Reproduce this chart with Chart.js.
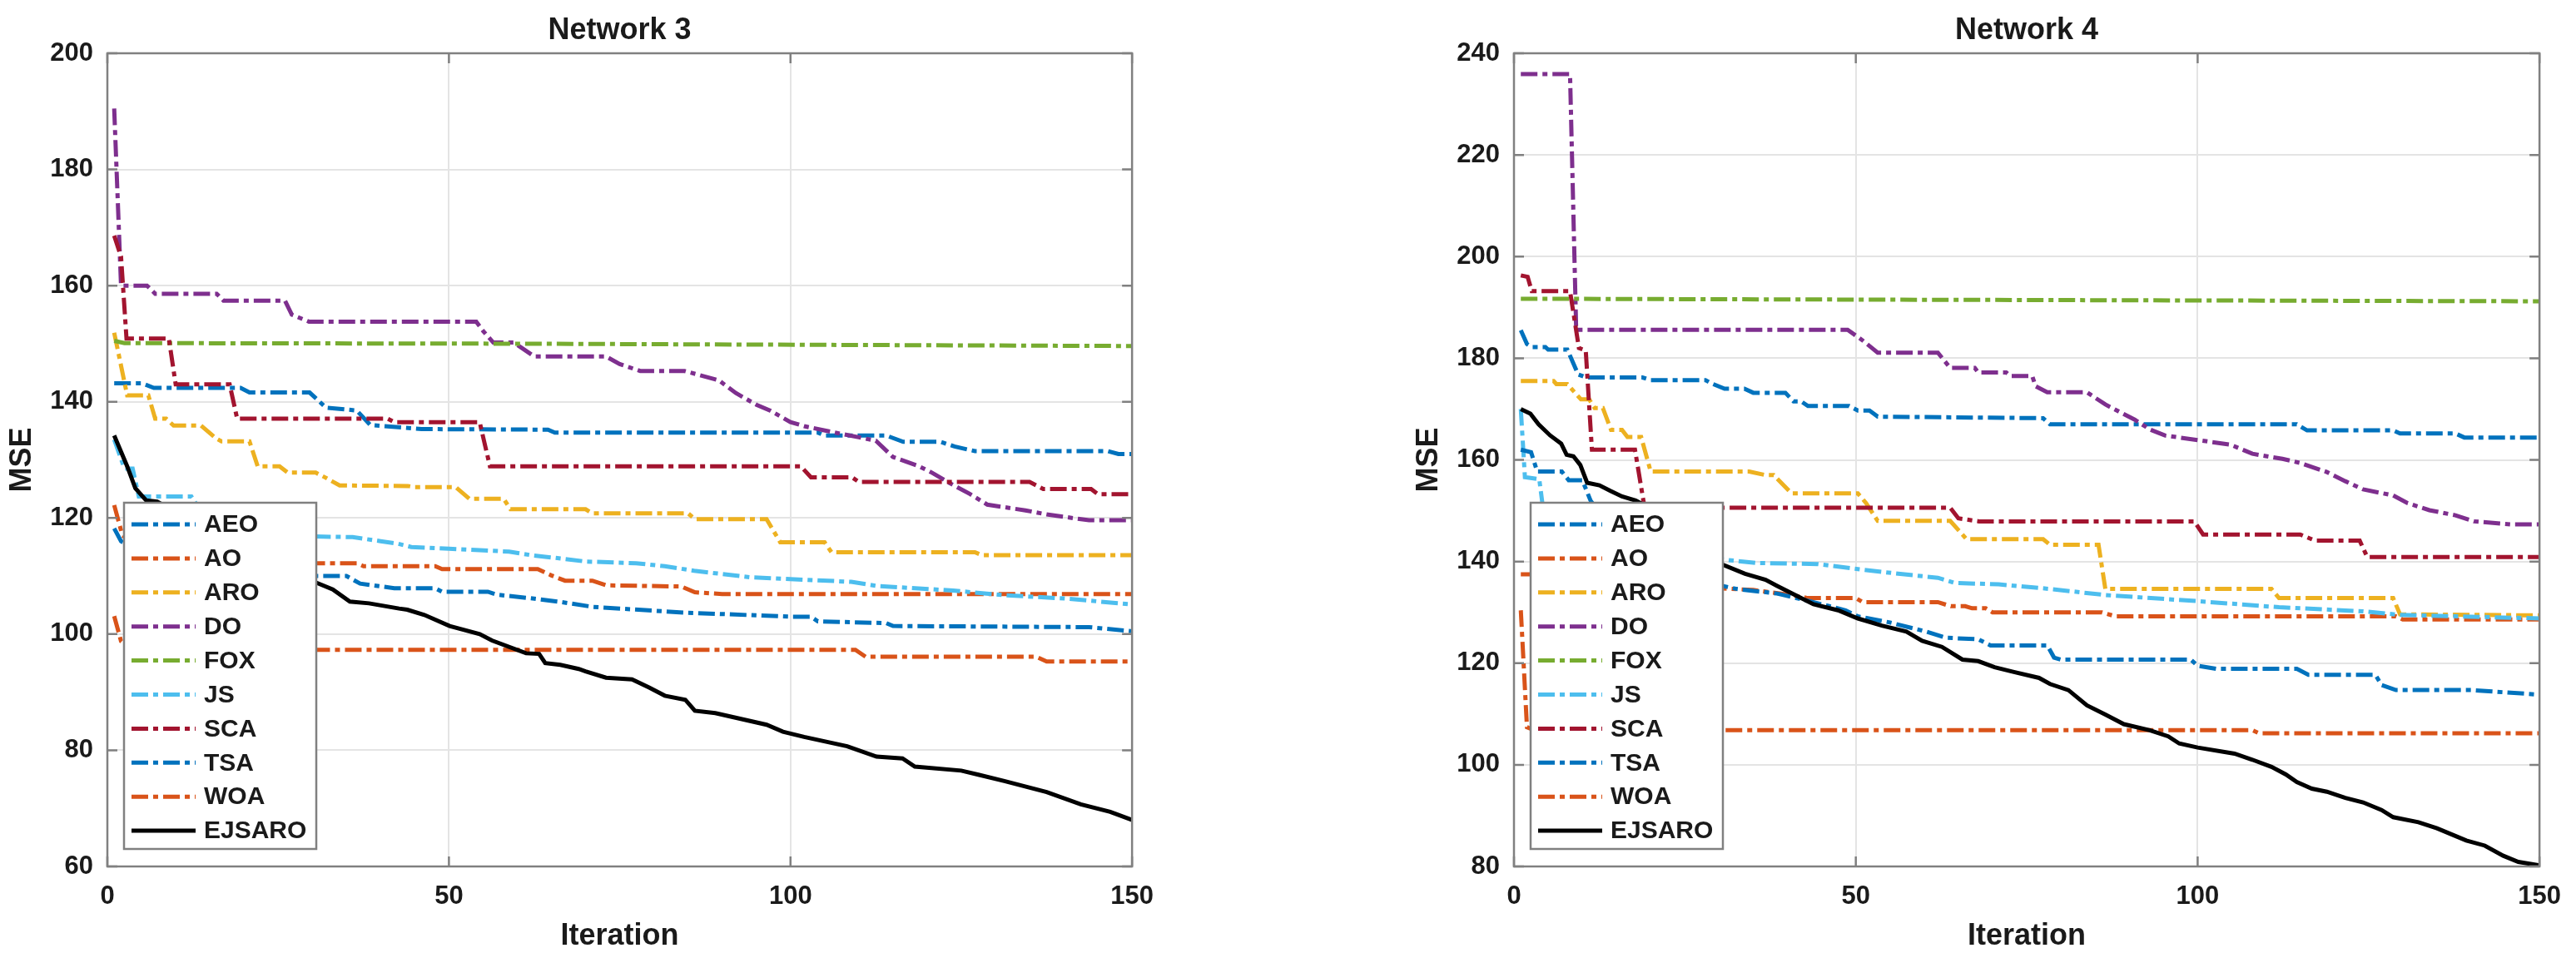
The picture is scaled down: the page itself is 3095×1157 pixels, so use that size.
<!DOCTYPE html>
<html>
<head>
<meta charset="utf-8">
<script src="https://cdn.jsdelivr.net/npm/chart.js@4.4.1/dist/chart.umd.min.js"></script>
<style>
  html, body { margin: 0; padding: 0; background: #fff; }
  body { width: 3095px; height: 1157px; position: relative; overflow: hidden; }
  .panel { position: absolute; top: 0; }
</style>
</head>
<body>
<div class="panel" style="left:0px"><canvas id="net3" width="1404" height="1157"></canvas></div>
<div class="panel" style="left:1690px"><canvas id="net4" width="1405" height="1157"></canvas></div>

<script>
// ================= DATA =================

const methods = ["AEO", "AO", "ARO", "DO", "FOX", "JS", "SCA", "TSA", "WOA", "EJSARO"];
const colors = ["#0072BD", "#D95319", "#EDB120", "#7E2F8E", "#77AC30", "#4DBEEE", "#A2142F", "#0072BD", "#D95319", "#000000"];

const xTicks = [0, 50, 100, 150];
const yTicks3 = [60, 80, 100, 120, 140, 160, 180, 200];
const yTicks4 = [80, 100, 120, 140, 160, 180, 200, 220, 240];

// Network 3 curves: [iteration, MSE]
const n3Aeo = [[1,143.2],[5,143.2],[6.8,142.4],[19.5,142.4],[20.8,141.6],[29.6,141.6],[32,139],[36.5,138.5],[38.5,136],[46,135.3],[64.5,135.2],[65.5,134.7],[104,134.7],[105,134.2],[114,134.2],[116.5,133.1],[122,133.1],[124,132.3],[127,131.5],[146.5,131.5],[148,131],[150,131]];
const n3Ao = [[1,122.2],[2.2,117],[4,115.5],[10,114],[20,113],[30.5,112.2],[36.5,112.2],[37.5,111.7],[48,111.7],[49,111.2],[63,111.2],[65,110.1],[67,109.2],[71,109.2],[73,108.4],[84,108.2],[86,107.2],[90,106.9],[150,106.9]];
const n3Aro = [[1,151.9],[2.9,141.1],[6,141.1],[7,137.1],[8.6,137.1],[9.7,135.9],[13.7,135.9],[15.9,133.7],[16.7,133.2],[20.8,133.2],[22,128.9],[25.2,128.9],[26.4,127.8],[30.5,127.8],[32,126.9],[34,125.6],[44,125.5],[45,125.3],[51,125.3],[53,123.3],[58,123.3],[59,121.5],[70,121.5],[71,120.8],[85,120.8],[86,119.8],[96.5,119.8],[98.5,115.8],[105,115.8],[106,114.1],[127,114.1],[128,113.6],[150,113.6]];
const n3Do = [[1,190.5],[2,160],[5.8,160],[7,158.6],[16,158.6],[17,157.4],[26,157.4],[27,155],[29.5,153.8],[54,153.8],[55,152.2],[56.5,150.2],[59.5,150.2],[62.5,147.8],[73,147.8],[75,146.5],[78,145.3],[84.5,145.3],[87,144.5],[89.5,143.7],[92,141.5],[95,139.5],[97,138.5],[100,136.5],[102,135.8],[106.5,134.7],[112.5,133.3],[115,130.5],[118.8,128.9],[120.7,127.8],[123,126.2],[126.3,124.1],[128.8,122.3],[134.4,121.3],[137.5,120.6],[143.7,119.6],[150,119.6]];
const n3Fox = [[1,150.5],[2.5,150.1],[60,150],[150,149.6]];
const n3Js = [[1,133.5],[2.5,128.5],[3.7,128.5],[4.6,123.7],[12.3,123.7],[13.5,121.5],[20,119.5],[30.5,116.8],[35.9,116.7],[40,116],[42.4,115.6],[44.5,115],[50,114.7],[58.8,114.2],[62,113.6],[65,113.2],[70,112.5],[77.4,112.2],[81.6,111.7],[85.9,110.9],[94,109.8],[103.3,109.3],[108.9,109],[112.6,108.3],[123.8,107.5],[131.3,106.7],[140.6,106.1],[150,105.1]];
const n3Sca = [[1,168.6],[2,165],[2.8,150.9],[9,150.9],[10,143],[17.9,143],[19,137.1],[41,137.1],[42,136.5],[54.5,136.5],[56,128.9],[101.5,128.9],[103,127],[109,127],[110,126.2],[135,126.2],[137,125],[144,125],[145,124.1],[150,124.1]];
const n3Tsa = [[1,118.2],[2,116],[5,114],[15,112],[25,110.5],[30.5,110],[35,110],[37,108.7],[42,107.9],[48,107.9],[49,107.3],[55.7,107.3],[57,106.8],[62.5,106.1],[66,105.6],[71,104.7],[84.6,103.7],[100,103],[103,103],[104,102.2],[114,101.9],[115,101.4],[143.7,101.2],[150,100.5]];
const n3Woa = [[1,103.1],[2,98.8],[3.5,97.3],[109.5,97.3],[111,96.1],[136,96.1],[137.5,95.3],[150,95.3]];
const n3Ejsaro = [[1,134.2],[2.9,128.9],[4.1,125.1],[5.7,123],[7.3,122.8],[10,121],[15,117.5],[20,114.5],[25,111.5],[30.5,108.9],[33,107.7],[35.5,105.6],[38.3,105.3],[42.7,104.4],[43.9,104.2],[46.4,103.3],[50.1,101.4],[54.5,100],[56.3,98.9],[61.3,96.7],[63.2,96.6],[64.1,95],[66.3,94.7],[69,94],[70,93.6],[73,92.5],[76.8,92.2],[79.3,90.8],[81.6,89.4],[84.6,88.7],[86,86.8],[89,86.4],[96.5,84.4],[98.9,83.2],[102,82.3],[108.3,80.7],[112.6,78.9],[116.4,78.6],[118.2,77.2],[125,76.5],[127.5,75.8],[131.3,74.7],[137.5,72.8],[142.5,70.7],[146.8,69.4],[150,68]];

// Network 4 curves: [iteration, MSE]
const n4Aeo = [[1,185.5],[1.9,182.8],[2.6,182.2],[4.6,182.2],[5,181.7],[7.8,181.7],[9.4,176.8],[10.6,176.2],[18.8,176.2],[20,175.7],[28,175.7],[28.8,175.1],[30.8,174],[33.7,174],[35,173.2],[39.7,173.2],[40.9,171.5],[42,171.5],[43,170.6],[49,170.6],[50.3,169.7],[52,169.7],[53.2,168.5],[77.4,168.2],[78.4,167],[114.5,167],[116,165.8],[128.6,165.8],[129.6,165.2],[137.7,165.2],[139,164.4],[150,164.4]];
const n4Ao = [[1,137.5],[2.5,137.5],[10,136.5],[20,135.6],[30.5,134.7],[35,134.4],[40,133.5],[43,132.8],[50,132.8],[51,132],[62,132],[63.9,131.2],[66,131.2],[67,130.8],[69,130.8],[70,130],[86,130],[88,129.2],[129,129.2],[130,128.6],[150,128.6]];
const n4Aro = [[1,175.5],[5.8,175.5],[6.2,174.9],[7.8,174.9],[9.8,171.9],[11,171.9],[11.8,170.2],[13,170.2],[14.2,165.9],[15.8,165.9],[16.6,164.5],[18.6,164.5],[20,157.7],[34.4,157.7],[36.8,157],[38,157],[40.6,153.4],[50.3,153.4],[51.5,151.5],[53.2,148],[63.8,148],[66.2,144.4],[77.4,144.4],[78.4,143.3],[85.5,143.3],[86.5,134.6],[110.8,134.6],[111.9,132.8],[128.6,132.8],[129.6,129.6],[150,129.4]];
const n4Do = [[1,235.9],[8.2,235.9],[9.1,185.6],[48.8,185.6],[50.9,183.6],[53.2,181.1],[62,181.1],[63.8,178.1],[67.4,178.1],[67.9,177.2],[72,177.2],[72.6,176.5],[75.8,176.5],[76.3,174.5],[78,173.3],[83.8,173.3],[86.5,170.9],[90.8,167.9],[93,166],[95.2,164.8],[100,163.9],[104.8,163],[108,161.2],[112.4,160.2],[115,159.4],[118.9,157.6],[121.6,155.8],[124.2,154.2],[128.6,153],[130.7,151.5],[133.9,150.1],[137.7,149.1],[140.4,147.9],[145.8,147.3],[150,147.3]];
const n4Fox = [[1,191.7],[60,191.5],[150,191.2]];
const n4Js = [[1,170],[1.6,156.6],[3.7,156.2],[4.2,151],[10,146],[20,142],[30.5,140.4],[35.6,139.7],[44.4,139.5],[50.3,138.5],[56.2,137.6],[62,136.8],[64.4,135.8],[70.9,135.5],[78.4,134.6],[86.5,133.4],[100,132.2],[111.9,131],[124.2,130.2],[129.6,129.5],[150,128.8]];
const n4Sca = [[1,196.3],[2,196],[2.6,193.2],[8.2,193.2],[9.5,182],[10.5,181.5],[11.4,162],[17.7,162],[19.1,150.6],[63.8,150.6],[65,148.5],[68,147.9],[99.5,147.9],[100.8,145.3],[115,145.3],[117.2,144.1],[123.7,144.1],[124.8,140.9],[150,140.9]];
const n4Tsa = [[1,162],[2.5,161.5],[3.4,157.7],[7,157.7],[8,156],[10,156],[11.2,152],[15,145],[22,139],[30.5,135.2],[32.6,134.6],[38.5,133.7],[43.2,132.2],[48.5,130.4],[50.3,129.2],[55,128],[60.3,126.2],[63.2,125],[67.9,124.7],[69.7,123.5],[78,123.5],[79,121.1],[80,120.7],[99,120.7],[100,119.5],[102.7,118.9],[114.5,118.9],[116.2,117.7],[126,117.7],[126.9,115.7],[129,114.7],[140,114.7],[150,113.8]];
const n4Woa = [[1,130.4],[1.9,107.4],[3,106.8],[108,106.8],[109,106.2],[150,106.2]];
const n4Ejsaro = [[1,170],[2.4,169.1],[3.6,167],[5.3,164.8],[6.9,163.2],[7.7,161],[8.7,160.7],[9.7,159],[10.7,155.5],[12.5,155],[14.1,153.9],[15.8,152.8],[17.8,152],[18.5,151.5],[22,148],[26,144],[30.5,139.4],[33.8,137.6],[36.8,136.4],[38.5,135.2],[42,132.8],[43.8,131.6],[47.4,130.4],[50.3,128.8],[53.8,127.4],[57.4,126.2],[59.7,124.4],[62.6,123.2],[65.6,120.7],[67.9,120.4],[70.3,119.2],[73,118.3],[76.8,117.1],[78.4,115.9],[81.1,114.7],[83.8,111.7],[86.5,109.9],[89.2,108],[93,106.8],[95.7,105.6],[97.3,104.2],[100,103.4],[105.4,102.2],[108,101],[110.8,99.6],[112.9,98.1],[114.5,96.6],[116.7,95.3],[118.9,94.7],[121.6,93.5],[124.2,92.6],[126.9,91.1],[128.6,89.7],[132.3,88.7],[135,87.5],[137.7,86],[139.3,85.1],[142,84.1],[144.7,82.1],[146.9,80.9],[150,80.2]];

const net3Series = [n3Aeo, n3Ao, n3Aro, n3Do, n3Fox, n3Js, n3Sca, n3Tsa, n3Woa, n3Ejsaro];
const net4Series = [n4Aeo, n4Ao, n4Aro, n4Do, n4Fox, n4Js, n4Sca, n4Tsa, n4Woa, n4Ejsaro];

// ================= STYLE =================

const FONT = "'Liberation Sans', Arial, Helvetica, sans-serif";
const TEXT = "#1a1a1a";
const AXIS = "#808080";
const DASHDOT = [20, 6, 6, 6];

// ================= PLUGINS =================

// MATLAB-like box around the axes with inward ticks on all four sides
const axesBox = {
    id: "axesBox",
    afterDatasetsDraw(chart) {
        const { ctx, chartArea: a, scales } = chart;
        const tk = 12;
        ctx.save();
        ctx.strokeStyle = AXIS;
        ctx.lineWidth = 2.5;
        ctx.beginPath();
        scales.x.ticks.forEach((t) => {
            const px = scales.x.getPixelForValue(t.value);
            ctx.moveTo(px, a.bottom);
            ctx.lineTo(px, a.bottom - tk);
            ctx.moveTo(px, a.top);
            ctx.lineTo(px, a.top + tk);
        });
        scales.y.ticks.forEach((t) => {
            const py = scales.y.getPixelForValue(t.value);
            ctx.moveTo(a.left, py);
            ctx.lineTo(a.left + tk, py);
            ctx.moveTo(a.right, py);
            ctx.lineTo(a.right - tk, py);
        });
        ctx.stroke();
        ctx.strokeRect(a.left, a.top, a.right - a.left, a.bottom - a.top);
        ctx.restore();
    },
};

// legend box sitting inside the lower-left part of the axes
const boxLegend = {
    id: "boxLegend",
    afterDraw(chart) {
        const { ctx, chartArea: a } = chart;
        const x0 = a.left + 20;
        const y0 = a.top + 540;
        const w = 231;
        const h = 416;
        const rowH = 40.9;

        ctx.save();
        ctx.fillStyle = "#ffffff";
        ctx.fillRect(x0, y0, w, h);
        ctx.strokeStyle = AXIS;
        ctx.lineWidth = 2.5;
        ctx.strokeRect(x0, y0, w, h);

        ctx.font = `bold 30px ${FONT}`;
        ctx.textBaseline = "middle";
        ctx.textAlign = "left";

        chart.data.datasets.forEach((ds, i) => {
            const cy = y0 + 26 + i * rowH;
            ctx.beginPath();
            ctx.setLineDash(ds.borderDash || []);
            ctx.strokeStyle = ds.borderColor;
            ctx.lineWidth = ds.borderWidth;
            ctx.moveTo(x0 + 9, cy);
            ctx.lineTo(x0 + 86, cy);
            ctx.stroke();
            ctx.setLineDash([]);
            ctx.fillStyle = TEXT;
            ctx.fillText(ds.label, x0 + 96, cy + 1);
        });
        ctx.restore();
    },
};

// ================= CHART =================

function buildDatasets(seriesList) {
    return seriesList.map((pts, i) => {
        const solid = methods[i] === "EJSARO";
        return {
            label: methods[i],
            data: pts.map(([x, y]) => ({ x, y })),
            borderColor: colors[i],
            backgroundColor: colors[i],
            borderWidth: 5,
            borderDash: solid ? [] : DASHDOT,
            pointRadius: 0,
            tension: 0,
            fill: false,
            order: seriesList.length - 1 - i,
        };
    });
}

function renderChart(canvasId, title, seriesList, yTicks) {
    const ctx = document.getElementById(canvasId);
    return new Chart(ctx, {
        type: "line",
        data: { datasets: buildDatasets(seriesList) },
        options: {
            responsive: false,
            devicePixelRatio: 1,
            animation: false,
            layout: { padding: { left: 0, right: 40, top: 0, bottom: 0 } },
            plugins: {
                legend: { display: false },
                tooltip: { enabled: false },
                title: {
                    display: true,
                    text: title,
                    fullSize: false,
                    color: TEXT,
                    font: { family: FONT, size: 36, weight: "bold" },
                    padding: { top: 15, bottom: 5.8 },
                },
            },
            scales: {
                x: {
                    type: "linear",
                    min: xTicks[0],
                    max: xTicks[xTicks.length - 1],
                    afterBuildTicks: (s) => { s.ticks = xTicks.map((v) => ({ value: v })); },
                    afterFit: (s) => { s.height = 116; },
                    ticks: {
                        color: TEXT,
                        padding: 18,
                        maxRotation: 0,
                        font: { family: FONT, size: 31, weight: "bold" },
                    },
                    grid: { color: "#e4e4e4", lineWidth: 2, drawTicks: false },
                    border: { display: false },
                    title: {
                        display: true,
                        text: "Iteration",
                        color: TEXT,
                        font: { family: FONT, size: 36, weight: "bold" },
                        padding: { top: 0, bottom: 10 },
                    },
                },
                y: {
                    type: "linear",
                    min: yTicks[0],
                    max: yTicks[yTicks.length - 1],
                    afterBuildTicks: (s) => { s.ticks = yTicks.map((v) => ({ value: v })); },
                    afterFit: (s) => { s.width = 129; },
                    ticks: {
                        color: TEXT,
                        padding: 17,
                        font: { family: FONT, size: 31, weight: "bold" },
                    },
                    grid: { color: "#e4e4e4", lineWidth: 2, drawTicks: false },
                    border: { display: false },
                    title: {
                        display: true,
                        text: "MSE",
                        color: TEXT,
                        font: { family: FONT, size: 36, weight: "bold" },
                        padding: { top: 5, bottom: 0 },
                    },
                },
            },
        },
        plugins: [axesBox, boxLegend],
    });
}

renderChart("net3", "Network 3", net3Series, yTicks3);
renderChart("net4", "Network 4", net4Series, yTicks4);
</script>
</body>
</html>
